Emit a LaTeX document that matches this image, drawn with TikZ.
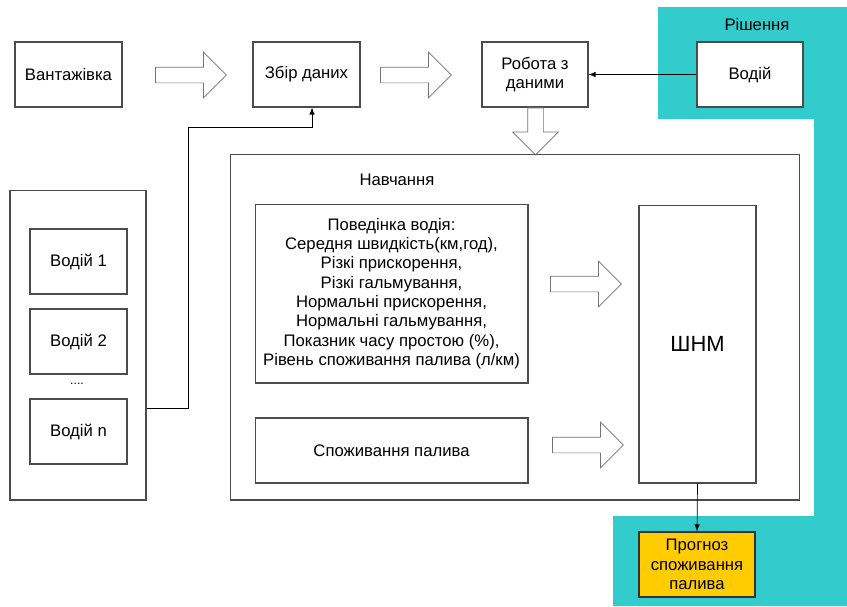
\documentclass[tikz,border=0pt]{standalone}
\usepackage{fontspec}
\setmainfont{Liberation Sans}
\usetikzlibrary{arrows,shapes,positioning}

\definecolor{solTeal}{HTML}{33CCCC}
\definecolor{progYellow}{HTML}{FFCC00}

\tikzset{
  box/.style={draw=black!70, line width=0.6pt, align=center, inner sep=0pt,
    minimum width=2.14cm, minimum height=1.3cm},
  driverBox/.style={box, minimum width=1.94cm},
  bigArrow/.style={single arrow, draw=black!55, fill=white, inner sep=0.15cm,
    minimum height=1.42cm, single arrow head extend=0.3cm},
}

\begin{document}
\begin{tikzpicture}[x=0.02cm, y=-0.02cm, >=latex,
  every node/.style={font=\fontsize{9.5}{11}\selectfont}]

\useasboundingbox (0,0) rectangle (847,606);

% decision area
\fill [solTeal] (658,7) -- (847,7) -- (847,606) -- (613,606) -- (613,516)
  -- (814,516) -- (814,119) -- (658,119) -- cycle;
\node (decision) at (757,25) {Рішення};

% top row
\node [box] (truck) at (68.5,74.5) {Вантажівка};
\node [box] (collect) at (306.5,74.5) {Збір даних};
\node [box, minimum width=2.12cm] (process) at (535,74.5) {Робота з\\даними};
\node [box, minimum width=2.12cm, fill=white] (driver) at (750,74.5) {Водій};

\node [bigArrow] (arrow-1) at (187,75) {};
\node [bigArrow] (arrow-2) at (412,75) {};
\node [bigArrow, shape border rotate=270, minimum height=0.94cm] (arrow-3) at (535.5,127.5) {};

% drivers
\node [box, minimum width=2.72cm, minimum height=6.2cm] (drivers) at (78,345) {};
\foreach \m/\y in {1/261.5,2/341.5,n/431.5}
  \node [driverBox] (driver-\m) at (78.5,\y) {Водій \m};
\node [font=\fontsize{7}{8}\selectfont] (dots) at (77,384) {....};

% training
\node [box, minimum width=11.4cm, minimum height=6.92cm] (training) at (515,327) {};
\node (trainLabel) at (397,180) {Навчання};
\node [box, minimum width=5.46cm, minimum height=3.58cm] (behaviour) at (391.5,293.5)
  {Поведінка водія:\\Середня швидкість(км,год),\\Різкі прискорення,\\Різкі гальмування,\\
   Нормальні прискорення,\\Нормальні гальмування,\\Показник часу простою (\%),\\
   Рівень споживання палива (л/км)};
\node [box, minimum width=5.46cm] (fuel) at (391.5,450.5) {Споживання палива};
\node [box, minimum width=2.34cm, minimum height=5.56cm, font=\fontsize{12.5}{14}\selectfont] (ann) at (697.5,344) {ШНМ};

\node [bigArrow] (arrow-4) at (582,284) {};
\node [bigArrow] (arrow-5) at (584,445) {};

% forecast
\node [box, minimum width=2.32cm, fill=progYellow, draw=black!80] (forecast) at (697,564.5)
  {Прогноз\\споживання\\палива};

% connectors
\coordinate (bend) at (188,408);
\coordinate (jog) at (188,127);
\draw [->] (drivers.east |- bend) -- (bend) -- (jog) -| ([xshift=0.11cm]collect.south);
\draw [->] (driver.west) -- (process.east);
\draw [->] (ann.south) -- (forecast.north);

\end{tikzpicture}
\end{document}
